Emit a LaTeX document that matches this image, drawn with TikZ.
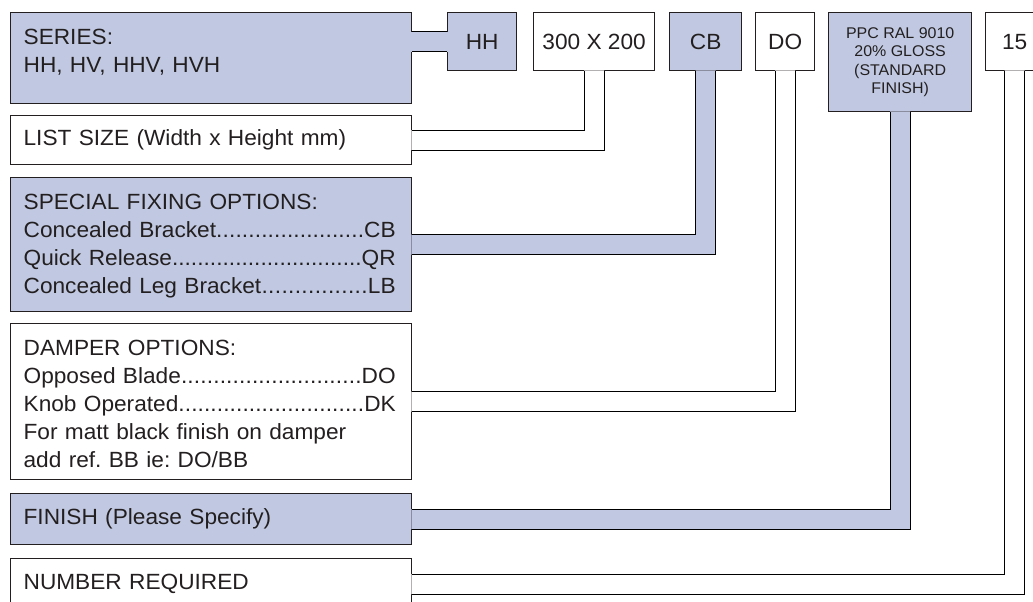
\documentclass[tikz,border=0pt]{standalone}
\usepackage{fontspec}
\setmainfont{Liberation Sans}[FakeStretch=1.03]
\usepackage{tikz}
\usetikzlibrary{calc,positioning}
\definecolor{lilac}{RGB}{193,201,226}
\definecolor{ink}{RGB}{35,31,32}
\newcommand{\leaderdots}{\xleaders\hbox{.}\hfill}
\frenchspacing

\begin{document}
\begin{tikzpicture}[x=1pt,y=-1pt,line width=1.3pt,
    every node/.style={text=ink,font=\fontsize{22}{28}\selectfont},
    panel/.style={draw=ink,rectangle,inner sep=0pt,anchor=north west,minimum width=401},
    tag/.style={draw=ink,rectangle,inner sep=0pt,anchor=north west,minimum height=58},
    blurb/.style={inner sep=0pt,text width=372pt,align=left}]
    \useasboundingbox (0,0) rectangle (1033,602);

    \node[panel,fill=lilac,minimum height=91] (series) at (10,12) {};
    \node[panel,fill=white,minimum height=49] (size) at (10,115) {};
    \node[panel,fill=lilac,minimum height=134] (fix) at (10,177) {};
    \node[panel,fill=white,minimum height=156] (damper) at (10,323) {};
    \node[panel,fill=lilac,minimum height=51] (finish) at (10,493) {};
    \node[panel,fill=white,minimum height=51] (number) at (10,558) {};

    \node[tag,fill=lilac,minimum width=69] (hh) at (447,12) {HH};
    \node[tag,fill=white,minimum width=121] (dim) at (533,12) {300 X 200};
    \node[tag,fill=lilac,minimum width=72] (cb) at (669,12) {CB};
    \node[tag,fill=white,minimum width=59] (dmp) at (755,12) {DO};
    \node[tag,fill=lilac,minimum width=143,minimum height=99,align=center,
      font=\fontsize{15.5}{18.5}\selectfont] (ppc) at (828,12) {PPC RAL 9010\\20\% GLOSS\\(STANDARD\\FINISH)};
    \node[tag,fill=white,minimum width=58] (qty) at (985,12) {15};

    \fill[lilac] ($(hh.west)+(1,-10)$) rectangle ($(series.east |- hh.west)+(-1,10)$);
    \draw ($(series.east |- hh.west)+(0,-10)$) -- ($(hh.west)+(0,-10)$);
    \draw ($(series.east |- hh.west)+(0,10)$) -- ($(hh.west)+(0,10)$);
    \foreach \from/\to/\shade in {size/dim/white,fix/cb/lilac,damper/dmp/white,finish/ppc/lilac,number/qty/white}
    {
      \fill[\shade] ($(\from.east)+(-1,-10)$) -| ($(\to.south)+(-10,-1)$) -- ($(\to.south)+(10,-1)$) |- ($(\from.east)+(-1,10)$) -- cycle;
      \draw ($(\from.east)+(0,-10)$) -| ($(\to.south)+(-10,0)$);
      \draw ($(\from.east)+(0,10)$) -| ($(\to.south)+(10,0)$);
    }

    \node[blurb,below right=16.5pt and 13pt of series.north west] {SERIES:\\HH, HV, HHV, HVH};
    \node[blurb,right=13pt of size.west] {LIST SIZE (Width x Height mm)};
    \node[blurb,below right=16.5pt and 13pt of fix.north west] {SPECIAL FIXING OPTIONS:\\Concealed Bracket\leaderdots CB\\Quick Release\leaderdots QR\\Concealed Leg Bracket\leaderdots LB};
    \node[blurb,below right=16.5pt and 13pt of damper.north west] {DAMPER OPTIONS:\\Opposed Blade\leaderdots DO\\Knob Operated\leaderdots DK\\For matt black finish on damper\\add ref. BB ie: DO/BB};
    \node[blurb,right=13pt of finish.west] {FINISH (Please Specify)};
    \node[blurb,right=13pt of number.west] {NUMBER REQUIRED};
\end{tikzpicture}
\end{document}
